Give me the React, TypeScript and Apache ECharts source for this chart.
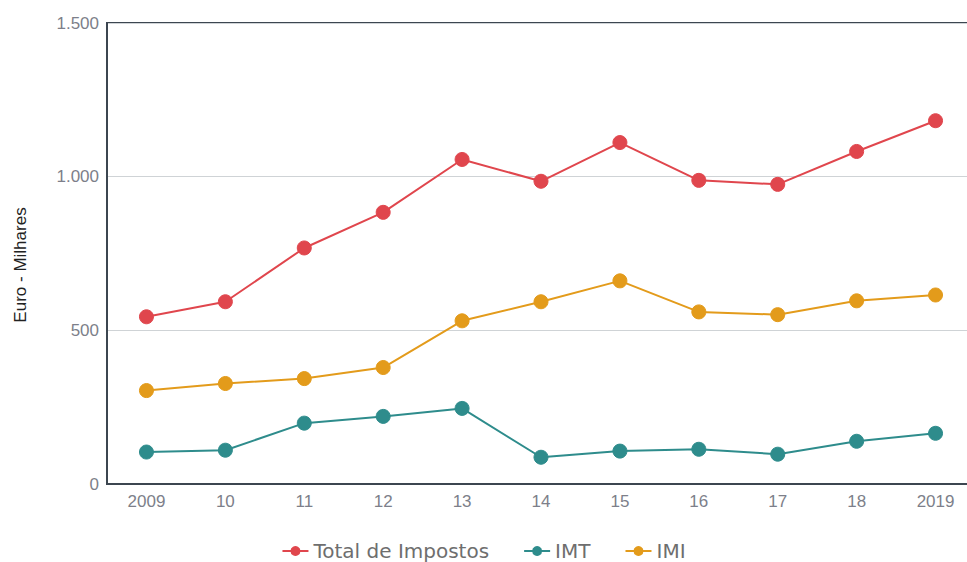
import React, { useEffect, useRef } from "react";
import * as echarts from "echarts";

const categories = ["2009", "10", "11", "12", "13", "14", "15", "16", "17", "18", "2019"];
const totalImpostos = [544, 593, 768, 884, 1056, 985, 1111, 988, 975, 1082, 1182];
const imt = [104, 110, 198, 220, 246, 87, 107, 113, 97, 139, 165];
const imi = [304, 327, 343, 379, 531, 593, 661, 560, 551, 596, 615];
const yAxisTitle = "Euro - Milhares";

export default function App() {
  const ref = useRef<HTMLDivElement>(null);
  useEffect(() => {
    if (!ref.current) return;
    const chart = echarts.init(ref.current, undefined, { renderer: "svg" });
    const mk = (name: string, data: number[], color: string) => ({
      name,
      type: "line",
      data,
      symbol: "circle",
      symbolSize: 14,
      itemStyle: { color, borderColor: color, borderWidth: 1 },
      lineStyle: { color, width: 2 },
    });
    chart.setOption({
      animation: false,
      backgroundColor: "#ffffff",
      grid: {
        left: 107,
        top: 23,
        bottom: 78,
        right: -8,
        outerBoundsMode: "none",
        containLabel: false,
        show: true,
        borderColor: "#3c4650",
        borderWidth: 2,
        backgroundColor: "transparent",
      },
      legend: {
        top: 536,
        left: "center",
        itemGap: 34,
        itemWidth: 26,
        itemHeight: 10,
        textStyle: { color: "#6e6e6e", fontSize: 20, fontFamily: "DejaVu Sans" },
        data: ["Total de Impostos", "IMT", "IMI"],
      },
      graphic: [
        {
          type: "text",
          x: 20,
          y: 265,
          rotation: Math.PI / 2,
          style: {
            text: yAxisTitle,
            fill: "#222",
            fontSize: 17,
            fontFamily: "Liberation Sans",
            align: "center",
            verticalAlign: "middle",
          },
        },
      ],
      xAxis: {
        type: "category",
        data: categories,
        boundaryGap: true,
        axisLine: { show: true, lineStyle: { color: "#3c4650", width: 2 } },
        axisTick: { show: false },
        axisLabel: { color: "#7d7f8a", fontSize: 17, margin: 9, fontFamily: "Liberation Sans" },
      },
      yAxis: {
        type: "value",
        min: 0,
        max: 1500,
        interval: 500,
        axisLine: { show: true, lineStyle: { color: "#3c4650", width: 2 } },
        axisTick: { show: false },
        axisLabel: {
          color: "#7d7f8a",
          fontSize: 17,
          margin: 8,
          fontFamily: "Liberation Sans",
          formatter: (v: number) => (v >= 1000 ? `${Math.floor(v / 1000)}.${String(v % 1000).padStart(3, "0")}` : String(v)),
        },
        splitLine: { show: true, lineStyle: { color: "#cfd3d6", width: 1 } },
      },
      series: [
        mk("Total de Impostos", totalImpostos, "#e0464d"),
        mk("IMT", imt, "#2e8c8c"),
        mk("IMI", imi, "#e39b1b"),
      ],
    });
    return () => chart.dispose();
  }, []);
  return <div ref={ref} style={{ width: 967, height: 562, position: "absolute", left: 0, top: 0 }} />;
}
